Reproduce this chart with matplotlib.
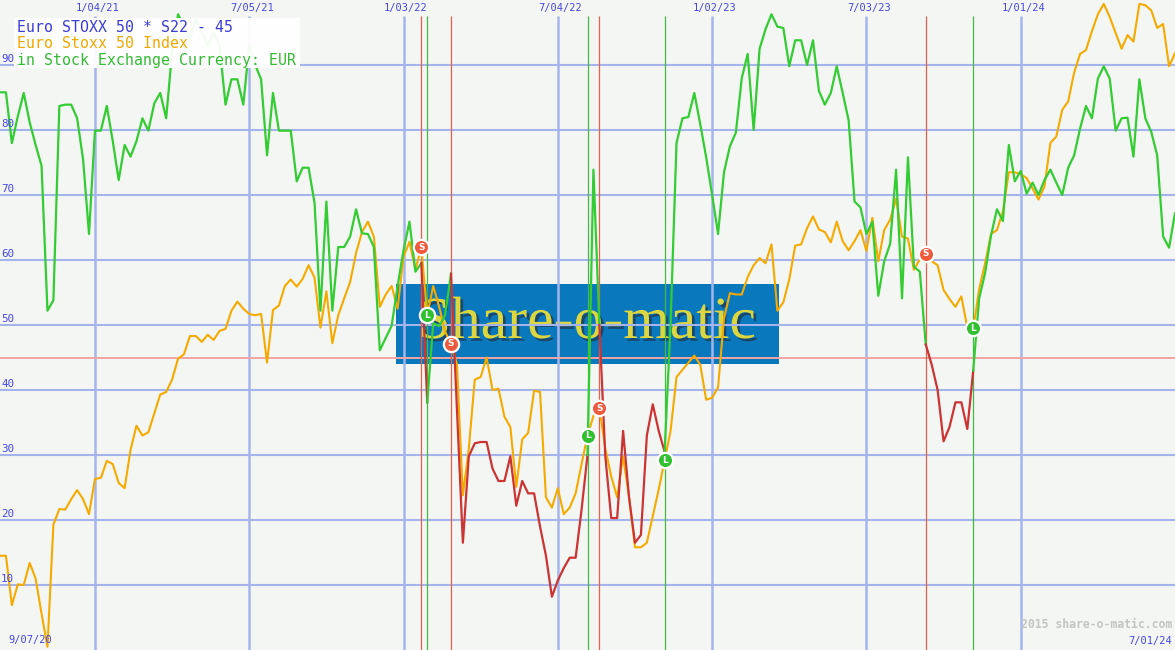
import pandas as pd
import matplotlib
matplotlib.use('Agg')
from matplotlib import pyplot as plt
from matplotlib.patches import Rectangle
import matplotlib.patheffects as pe

# weekly closes, first week 14 Sep 2020
start = '2020-09-14'

index_vals = [
    14.5, 14.5, 6.9, 10.1, 10.0, 13.4, 11.0, 5.6, 0.5, 19.3,
    21.7, 21.6, 23.2, 24.6, 23.2, 20.9, 26.3, 26.5, 29.1, 28.6,
    25.7, 24.9, 30.8, 34.5, 33.0, 33.5, 36.4, 39.3, 39.7, 41.6,
    44.8, 45.5, 48.3, 48.3, 47.4, 48.5, 47.7, 49.1, 49.4, 52.2,
    53.6, 52.5, 51.7, 51.5, 51.7, 44.2, 52.3, 53.0, 56.0, 57.0,
    55.9, 57.1, 59.2, 57.3, 49.6, 55.2, 47.2, 51.5, 54.1, 56.6,
    61.1, 64.3, 65.9, 63.6, 52.8, 54.7, 56.0, 52.5, 60.5, 62.8,
    58.5, 62.0, 51.5, 56.0, 52.8, 49.0, 47.1, 44.0, 23.8, 31.0,
    41.6, 42.0, 45.0, 40.0, 40.2, 35.9, 34.3, 25.1, 32.4, 33.4,
    39.9, 39.7, 23.5, 21.9, 24.9, 20.9, 21.9, 24.1, 28.6, 33.0,
    36.0, 37.2, 31.0, 26.7, 23.5, 29.8, 23.5, 15.8, 15.8, 16.5,
    20.6, 24.7, 29.2, 33.7, 42.0, 43.1, 44.2, 45.3, 43.9, 38.5,
    38.8, 40.4, 51.0, 54.9, 54.7, 54.7, 57.4, 59.2, 60.3, 59.5,
    62.4, 52.2, 53.5, 57.0, 62.2, 62.4, 64.9, 66.7, 64.7, 64.3,
    62.7, 65.9, 62.9, 61.5, 62.9, 64.6, 61.4, 66.5, 59.8, 64.6,
    66.2, 69.4, 63.6, 63.3, 58.5, 60.1, 61.0, 59.8, 59.2, 55.4,
    54.0, 52.8, 54.4, 49.6, 49.5, 55.5, 59.5, 64.0, 64.6, 67.5,
    73.5, 73.5, 73.2, 72.6, 71.0, 69.3, 71.3, 78.0, 79.0, 83.1,
    84.4, 88.8, 91.7, 92.3, 95.2, 97.8, 99.4, 97.4, 94.9, 92.5,
    94.6, 93.6, 99.4, 99.2, 98.4, 95.7, 96.3, 89.8, 91.8]

s22_vals = [
    85.8, 85.8, 78.0, 82.1, 85.7, 81.2, 77.7, 74.5, 52.2, 53.8,
    83.7, 83.9, 83.9, 81.8, 75.5, 64.0, 79.9, 79.9, 83.7, 78.3,
    72.3, 77.7, 75.9, 78.3, 81.8, 79.9, 84.1, 85.7, 81.8, 92.0,
    97.8, 96.0, 94.0, 97.0, 95.0, 93.0, 95.0, 93.0, 83.9, 87.8,
    87.8, 83.9, 93.0, 90.0, 87.8, 76.1, 85.7, 79.9, 79.9, 79.9,
    72.1, 74.2, 74.2, 68.8, 52.2, 69.0, 52.2, 62.0, 62.0, 63.6,
    67.8, 64.1, 64.0, 62.0, 46.1, 48.0, 49.9, 56.0, 61.5, 65.9,
    58.2, 59.5, 38.1, 50.3, 49.8, 51.5, 57.9, 37.0, 16.5, 29.8,
    31.8, 32.0, 32.0, 27.9, 26.0, 26.0, 29.8, 22.2, 26.0, 24.1,
    24.1, 19.0, 14.5, 8.2, 10.7, 12.6, 14.2, 14.2, 21.6, 30.0,
    73.9, 50.0, 29.8, 20.3, 20.3, 33.7, 23.5, 16.5, 17.7, 33.0,
    37.8, 33.7, 30.5, 50.3, 78.0, 81.8, 82.0, 85.7, 80.9, 75.8,
    70.0, 64.0, 73.5, 77.5, 79.6, 88.0, 91.7, 80.0, 92.5, 95.5,
    97.8, 95.9, 95.7, 89.8, 93.8, 93.8, 90.0, 93.8, 86.0, 83.9,
    85.7, 89.8, 85.7, 81.5, 69.0, 68.1, 64.0, 65.9, 54.5, 59.8,
    62.5, 73.9, 54.1, 75.8, 59.0, 58.2, 47.0, 43.9, 40.0, 32.1,
    34.3, 38.1, 38.1, 34.0, 43.0, 54.1, 58.0, 63.8, 67.8, 66.0,
    77.7, 72.1, 73.7, 70.2, 71.9, 70.0, 72.3, 73.9, 71.9, 70.0,
    74.2, 76.1, 80.2, 83.7, 81.8, 87.9, 89.8, 87.9, 79.9, 81.8,
    81.9, 75.9, 87.8, 81.8, 79.7, 76.1, 63.6, 61.9, 67.2]

# signal weeks (index into the weekly series)
sell_weeks = [71, 76, 101, 156]
buy_weeks = [72, 99, 112, 164]

grid_dates = ['2021-01-04', '2021-07-05', '2022-01-03', '2022-07-04',
              '2023-01-02', '2023-07-03', '2024-01-01']
grid_labels = ['1/04/21', '7/05/21', '1/03/22', '7/04/22',
               '1/02/23', '7/03/23', '1/01/24']
y_ticks = [10, 20, 30, 40, 50, 60, 70, 80, 90]
level = 45

W, H = 1175, 650
dates = pd.date_range(start, periods=len(index_vals), freq='7D')
gdates = pd.to_datetime(grid_dates)

def px(x, y):
    return x / W, 1 - y / H

fig = plt.figure(figsize=(W / 100, H / 100), dpi=100)
fig.patch.set_facecolor('#f4f6f3')
ax = fig.add_axes([0, 0, 1, 1])
ax.set_facecolor('#f4f6f3')
ax.set_xlim(dates[0], dates[-1])
ax.set_ylim(0, 100)
ax.axis('off')

mono = 'DejaVu Sans Mono'
blue = '#4646e6'
gridc = '#a6b4ee'

# watermark box
ax.add_patch(Rectangle(px(396, 364), 383 / W, 80 / H, transform=ax.transAxes,
                       facecolor='#0a78bc', edgecolor='none', zorder=1))
ax.text(*px(587, 324), 'Share-o-matic', transform=ax.transAxes,
        ha='center', va='center', fontsize=43, family='Liberation Serif',
        color='#dcd640', zorder=1.5,
        path_effects=[pe.withSimplePatchShadow(offset=(2, -2), shadow_rgbFace='#1e3c58', alpha=0.8)])

# grid
for v in y_ticks:
    ax.axhline(v, color=gridc, lw=1.5, zorder=2)
    ax.text(*px(1, (100 - v) * 6.5 - 6), str(v), transform=ax.transAxes,
            ha='left', va='center', fontsize=7.8, family=mono, color=blue, zorder=11)
ax.vlines(gdates, 0, 97.5, color=gridc, lw=1.8, zorder=2)
for d, lab in zip(gdates, grid_labels):
    ax.text(d + pd.Timedelta(days=3), 98.8, lab, ha='center', va='center',
            fontsize=7.5, family=mono, color=blue, zorder=6)
ax.axhline(level, color='#f2a4a4', lw=1.4, zorder=2.5)

# signal lines
ax.vlines(dates[sell_weeks], 0, 97.5, color='#e8604c', lw=0.9, zorder=3)
ax.vlines(dates[buy_weeks], 0, 97.5, color='#44b844', lw=0.9, zorder=3)

# index line
ax.plot(dates, index_vals, color='#f5aa00', lw=1.5, zorder=4)

# S22 line, green while long, red after a sell
cuts = sorted(sell_weeks + buy_weeks)
edges = [0] + cuts + [len(s22_vals) - 1]
for a, b in zip(edges[:-1], edges[1:]):
    col = '#cc3333' if a in sell_weeks else '#33cc33'
    ax.plot(dates[a:b + 1], s22_vals[a:b + 1], color=col, lw=1.6, zorder=5)

# signal markers sit on the index line
for i in sell_weeks:
    ax.plot(dates[i], index_vals[i], 'o', ms=11, mfc='#f05a3c', mec='white', mew=1.6, zorder=7)
    ax.text(dates[i], index_vals[i], 'S', ha='center', va='center', fontsize=6.5,
            color='white', fontweight='bold', zorder=8)
for i in buy_weeks:
    ax.plot(dates[i], index_vals[i], 'o', ms=11, mfc='#30c030', mec='white', mew=1.6, zorder=7)
    ax.text(dates[i], index_vals[i], 'L', ha='center', va='center', fontsize=6.5,
            color='white', fontweight='bold', zorder=8)

# legend box
ax.add_patch(Rectangle(px(14, 68), 286 / W, 50 / H, transform=ax.transAxes,
                       facecolor='white', edgecolor='none', alpha=0.95, zorder=9))
ax.text(*px(17, 28), 'Euro STOXX 50 * S22 - 45', transform=ax.transAxes,
        va='center', fontsize=10.7, family=mono, color='#3c3cd8', zorder=10)
ax.text(*px(17, 44), 'Euro Stoxx 50 Index', transform=ax.transAxes,
        va='center', fontsize=10.7, family=mono, color='#f0a800', zorder=10)
ax.text(*px(17, 60), 'in Stock Exchange Currency: EUR', transform=ax.transAxes,
        va='center', fontsize=10.7, family=mono, color='#33bb33', zorder=10)

# corner labels
ax.text(*px(8, 640), '9/07/20', transform=ax.transAxes, va='center',
        fontsize=7.5, family=mono, color=blue, zorder=10)
ax.text(*px(1172, 641), '7/01/24', transform=ax.transAxes, va='center', ha='right',
        fontsize=7.5, family=mono, color=blue, zorder=10)
ax.text(*px(1172, 625), '2015 share-o-matic.com', transform=ax.transAxes, va='center',
        ha='right', fontsize=8.3, family=mono, color='#c4c4c4', fontweight='bold', zorder=10)

fig.savefig('out.png', dpi=100, facecolor=fig.get_facecolor())
